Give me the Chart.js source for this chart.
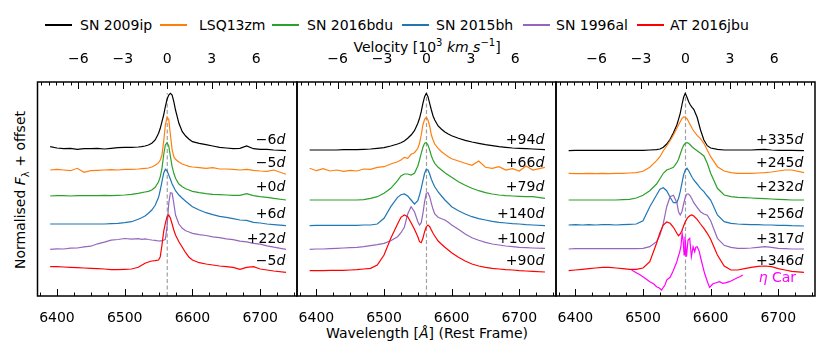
<!DOCTYPE html>
<html><head><meta charset="utf-8">
<script src="https://cdn.jsdelivr.net/npm/chart.js@4.4.0/dist/chart.umd.min.js"></script>
<style>
html,body{margin:0;padding:0;background:#fff;}
body{width:830px;height:357px;overflow:hidden;position:relative;font-family:"DejaVu Sans",sans-serif;color:#000;}
canvas{position:absolute;top:0;}
.t{position:absolute;white-space:nowrap;font-size:14px;line-height:1;transform:translate(-50%,-50%);}
.lg{position:absolute;top:25px;height:0;}
.lg .ln{position:absolute;top:-1px;width:27px;height:1.6px;}
.lg .tx{position:absolute;top:-8px;font-size:14px;line-height:16px;white-space:nowrap;}
sup,sub{font-size:10px;line-height:0;}
</style></head><body>
<div id="legend"></div>
<div class="t" style="left:427px;top:47px;">Velocity [10<sup>3</sup> <i>km s</i><sup>−1</sup>]</div>
<div class="t" style="left:427px;top:333px;">Wavelength [<i>Å</i>] (Rest Frame)</div>
<div class="t" style="left:20px;top:190px;transform:translate(-50%,-50%) rotate(-90deg);">Normalised <i>F</i><sub>λ</sub> + offset</div>
<canvas id="c1" width="280" height="357" style="left:27px;width:280px;height:357px;"></canvas>
<canvas id="c2" width="280" height="357" style="left:287px;width:280px;height:357px;"></canvas>
<canvas id="c3" width="280" height="357" style="left:546px;width:280px;height:357px;"></canvas>
<script>
// ---------------- data ----------------
const seriesNames = ['SN 2009ip', 'LSQ13zm', 'SN 2016bdu', 'SN 2015bh', 'SN 1996al', 'AT 2016jbu'];
const seriesColors = ['#000000', '#ff7f0e', '#2ca02c', '#1f77b4', '#9467bd', '#ff0000'];

const wavelength = [6390,6400,6410,6420,6430,6440,6450,6460,6470,6480,6490,6500,6510,
  6520,6525,6530,6535,6540,6545,6550,
  6552.5,6555,6557.5,6560,6562.5,6565,6567.5,6570,6572.5,6575,
  6580,6585,6590,6595,6600,
  6610,6620,6630,6640,6650,6660,6670,6680,6690,6700,6710,6720,6738];

// Panel 1 (early epochs)
const p1_2009ip = [14.93,14.8,14.73,14.77,14.67,14.73,14.73,14.77,14.7,14.77,14.83,14.87,14.87,
  14.9,14.93,15.0,15.1,15.27,15.6,16.27,
  16.77,17.43,18.1,18.93,19.67,20.1,20.27,20.1,19.43,18.6,
  17.27,16.43,16.0,15.67,15.43,
  15.27,15.13,15.0,14.87,14.8,14.73,14.77,15.0,14.73,14.67,14.67,14.6,14.53];
const p1_lsq13zm = [12.6,12.67,12.6,12.53,12.77,12.37,12.53,12.57,12.6,12.63,12.6,12.67,12.67,
  12.7,12.73,12.77,12.8,12.9,13.07,13.33,
  13.6,14.1,15.43,17.1,17.87,17.67,16.1,14.6,13.93,13.67,
  13.4,13.2,13.07,12.97,12.9,
  12.83,12.77,12.83,12.7,12.7,12.67,12.6,12.67,12.57,12.5,12.47,12.6,12.17];
const p1_2016bdu = [10.0,10.03,10.03,10.0,10.03,10.03,10.03,10.03,10.07,10.03,10.07,10.1,10.17,
  10.27,10.33,10.4,10.47,10.6,10.87,11.43,
  11.93,12.77,14.1,15.1,15.33,15.0,13.93,12.93,12.27,11.77,
  11.2,10.93,10.73,10.6,10.47,
  10.33,10.23,10.17,10.13,10.1,10.07,10.07,10.23,10.03,9.93,9.87,9.77,9.6];
const p1_2015bh = [7.2,7.2,7.2,7.2,7.2,7.2,7.2,7.2,7.2,7.23,7.27,7.33,7.43,
  7.67,7.83,8.0,8.27,8.6,9.07,9.87,
  10.6,11.43,12.27,12.67,12.53,12.1,11.67,11.2,10.87,10.53,
  10.1,9.77,9.47,9.2,8.93,
  8.6,8.33,8.13,7.97,7.87,7.73,7.6,7.57,7.37,7.3,7.2,7.13,7.03];
const p1_1996al = [4.67,4.72,4.7,4.78,4.8,4.92,4.98,5.22,5.38,5.58,5.65,5.75,5.69,
  5.74,5.67,5.71,5.65,5.6,5.57,5.5,
  5.52,5.53,5.57,5.67,6.93,9.27,10.33,10.27,9.27,8.1,
  7.2,6.77,6.53,6.4,6.27,
  6.13,6.05,5.91,5.84,5.72,5.64,5.49,5.42,5.26,5.18,5.02,4.88,4.67];
const p1_2016jbu = [2.93,2.93,2.9,2.87,2.83,2.8,2.77,2.73,2.7,2.63,2.63,2.67,2.7,
  2.87,3.07,3.27,3.4,3.5,3.53,3.6,
  3.93,5.1,6.43,7.27,7.93,8.1,7.77,7.2,6.6,6.1,
  5.43,4.87,4.33,3.87,3.6,
  3.33,3.2,3.1,3.0,2.93,2.87,2.67,2.87,2.93,2.7,2.6,2.5,2.37];

// Panel 2 (intermediate epochs)
const p2_2009ip = [14.6,14.6,14.6,14.6,14.6,14.63,14.63,14.63,14.67,14.7,14.77,14.83,15.0,
  15.2,15.33,15.5,15.77,16.1,16.53,17.27,
  17.77,18.43,19.27,19.93,20.27,19.93,19.27,18.6,18.0,17.6,
  17.0,16.67,16.4,16.2,16.03,
  15.77,15.57,15.4,15.27,15.13,15.03,14.93,14.87,14.8,14.77,14.73,14.7,14.63];
const p2_lsq13zm = [12.77,12.53,12.73,12.5,12.6,12.47,12.57,12.5,12.7,12.67,12.87,12.93,13.2,
  13.43,13.6,13.87,13.77,14.17,14.33,14.77,
  15.27,16.1,17.1,17.67,17.87,17.6,17.0,16.1,15.6,15.2,
  14.77,14.43,14.17,13.93,13.73,
  13.5,13.27,13.07,13.5,12.87,12.77,12.93,12.6,12.73,12.5,13.0,12.6,12.87];
const p2_2016bdu = [9.6,9.6,9.6,9.6,9.6,9.6,9.6,9.6,9.63,9.77,9.93,10.27,10.77,
  11.53,12.0,12.2,12.2,12.1,12.27,13.0,
  13.6,14.27,14.87,15.27,15.33,15.1,14.6,14.0,13.6,13.27,
  12.87,12.6,12.33,12.1,11.87,
  11.43,11.07,10.77,10.53,10.33,10.2,10.1,10.03,10.0,9.97,9.93,9.93,9.77];
const p2_2015bh = [7.03,7.07,7.07,7.07,7.07,7.07,7.07,7.07,7.1,7.1,7.2,7.77,8.93,
  9.87,10.13,10.2,10.0,9.6,9.2,9.53,
  10.1,10.77,11.53,12.27,12.67,12.6,12.2,11.67,11.27,10.93,
  10.4,10.0,9.6,9.27,8.93,
  8.53,8.2,7.93,7.73,7.6,7.47,7.37,7.3,7.23,7.2,7.13,7.1,7.03];
const p2_1996al = [4.67,4.7,4.7,4.73,4.77,4.8,4.83,4.87,4.93,5.03,5.13,5.27,5.53,
  5.93,6.33,6.87,8.2,8.93,8.43,7.43,
  7.1,7.33,8.27,9.43,10.27,10.33,9.93,9.27,8.67,8.2,
  7.87,7.73,7.6,7.37,7.1,
  6.67,6.2,5.83,5.57,5.37,5.2,5.1,5.0,4.93,4.87,4.83,4.8,4.77];
const p2_2016jbu = [2.53,2.53,2.53,2.57,2.57,2.57,2.6,2.63,2.7,2.77,3.1,4.1,5.77,
  7.2,7.87,8.1,7.93,7.33,6.67,5.93,
  5.43,5.33,5.77,6.43,6.93,7.1,6.93,6.6,6.27,6.0,
  5.5,5.17,4.87,4.6,4.33,
  3.87,3.5,3.2,3.0,2.87,2.77,2.7,2.63,2.6,2.53,2.5,2.47,2.4];

// Panel 3 (late epochs)
const p3_2009ip = [14.53,14.57,14.57,14.57,14.57,14.57,14.57,14.57,14.57,14.57,14.57,14.57,14.6,
  14.63,14.7,14.87,15.2,15.67,16.33,17.1,
  17.67,18.27,19.1,19.87,20.27,19.87,19.43,19.1,18.87,18.67,
  17.87,16.6,15.6,15.03,14.8,
  14.67,14.6,14.6,14.6,14.6,14.6,14.63,14.67,14.6,14.57,14.57,14.57,14.53];
const p3_lsq13zm = [12.27,12.23,12.23,12.27,12.23,12.27,12.23,12.27,12.27,12.3,12.33,12.47,12.87,
  13.53,13.93,14.53,15.0,15.53,16.1,16.77,
  17.1,17.43,17.73,17.9,17.87,17.73,17.43,17.1,16.77,16.5,
  16.07,15.73,15.27,14.6,13.93,
  12.93,12.5,12.33,12.27,12.27,12.27,12.3,12.33,12.4,12.5,12.6,12.6,12.33];
const p3_2016bdu = [9.6,9.6,9.6,9.6,9.6,9.6,9.6,9.6,9.63,9.67,9.8,10.07,10.53,
  11.2,11.73,12.27,12.6,12.73,12.87,13.33,
  13.67,14.17,14.67,15.07,15.27,15.33,15.27,15.1,14.93,14.77,
  14.53,14.27,14.0,13.27,12.27,
  10.77,10.1,9.93,9.87,9.83,9.8,9.77,9.73,9.7,9.67,9.63,9.6,9.6];
const p3_2015bh = [7.1,7.13,7.1,7.13,7.1,7.13,7.13,7.1,7.13,7.17,7.2,7.53,8.93,
  10.1,10.67,10.83,10.53,9.87,9.33,9.33,
  9.77,10.43,11.27,12.1,12.6,12.77,12.53,12.2,11.87,11.6,
  11.2,10.77,10.43,10.0,9.6,
  8.1,7.43,7.27,7.2,7.17,7.13,7.13,7.1,7.1,7.07,7.07,7.03,7.0];
const p3_1996al = [4.7,4.73,4.73,4.73,4.73,4.73,4.73,4.73,4.73,4.73,4.73,4.77,4.93,
  5.43,6.1,7.27,8.93,9.93,10.07,9.33,
  8.43,8.1,8.43,9.2,9.87,10.2,10.2,10.0,9.67,9.33,
  8.87,8.43,8.2,8.07,7.53,
  5.77,5.07,4.87,4.77,4.77,4.8,4.87,4.93,4.87,4.77,4.73,4.7,4.7];
const p3_2016jbu = [2.53,2.6,2.67,2.73,2.8,2.87,2.87,2.8,2.73,2.67,2.67,2.8,3.43,
  5.27,6.33,7.1,7.4,7.27,6.87,6.27,
  6.03,6.2,6.53,7.0,7.43,7.73,7.93,8.07,8.1,8.0,
  7.67,7.2,6.77,6.27,5.67,
  4.1,3.0,2.6,2.6,2.73,2.87,2.97,3.0,2.93,2.73,2.6,2.47,2.37];

// eta Car comparison (panel 3)
const etaCarWave = [6483,6490,6496,6503,6510,6516,6520,6524,6527.5,6530,6532.5,6535,6540,6544,6547,6550,
  6552,6554,6556,6557.8,6559.3,6560.7,6562,6564.2,6566.6,6569,6571.5,6574,6576.4,6578,6580,6582.8,
  6586,6591,6596,6598.5,6603,6608,6613,6618,6623,6628,6633,6638,6643,6647.5];
const etaCarFlux = [2.6,2.33,2.1,1.77,1.43,1.2,0.93,0.8,0.6,0.87,1.1,1.6,1.87,2.43,2.93,3.43,
  3.93,4.33,4.93,6.27,5.6,4.1,5.93,3.93,5.6,5.77,3.93,4.93,4.43,4.87,4.93,4.53,
  3.6,2.27,1.27,0.87,1.2,1.33,1.43,1.27,1.33,1.43,1.6,1.77,1.93,2.1];

// epochs (days) for each panel, same order as seriesNames
const epochsP1 = ['−6', '−5', '+0', '+6', '+22', '−5'];
const epochsP2 = ['+94', '+66', '+79', '+140', '+100', '+90'];
const epochsP3 = ['+335', '+245', '+232', '+256', '+317', '+346'];

// axes
const H_ALPHA = 6562.8;
const wlTicks = [6400, 6500, 6600, 6700];
const velTicks = [-6, -3, 0, 3, 6];
const X_MIN = 6371.3, X_MAX = 6754.3;
const C_KMS = 299792.458;

// ---------------- layout (not data) ----------------
const labelX = 6737;
const labelY = [15.6, 13.3, 10.85, 8.15, 5.7, 3.45];
const FONT = '"DejaVu Sans", sans-serif';
const Y_MAX = 21.4;

// legend (HTML)
const legendLineX = [45, 160, 272, 402, 523, 637];
const legendTextX = [80, 199, 307, 436, 556, 670];
const lg = document.getElementById('legend');
seriesNames.forEach((n, i) => {
  const d = document.createElement('div');
  d.className = 'lg';
  d.style.left = '0px';
  d.innerHTML = `<div class="ln" style="left:${legendLineX[i]}px;background:${seriesColors[i]}"></div><div class="tx" style="left:${legendTextX[i]}px">${n}</div>`;
  lg.appendChild(d);
});

function pts(xs, ys) { return xs.map((x, i) => ({x: x, y: ys[i]})); }

const panelPlugin = {
  id: 'panel',
  afterDatasetsDraw(chart, args, opts) {
    const ctx = chart.ctx, a = chart.chartArea;
    const xs = chart.scales.x, vs = chart.scales.x2, ys = chart.scales.y;
    ctx.save();
    ctx.strokeStyle = '#000'; ctx.lineWidth = 1.5;
    ctx.strokeRect(a.left, a.top, a.right - a.left, a.bottom - a.top);
    ctx.lineWidth = 1;
    ctx.beginPath();
    for (let w = 6375; w <= X_MAX; w += 25) {
      const px = Math.round(xs.getPixelForValue(w)) + 0.5;
      const len = (w % 100 === 0) ? 7 : 3.5;
      ctx.moveTo(px, a.bottom); ctx.lineTo(px, a.bottom - len);
    }
    for (let v = -8.5; v <= 8.5; v += 0.5) {
      const px = Math.round(vs.getPixelForValue(v)) + 0.5;
      if (px < a.left || px > a.right) continue;
      const len = (Math.abs(v) % 3 === 0) ? 7 : 3.5;
      ctx.moveTo(px, a.top); ctx.lineTo(px, a.top + len);
    }
    ctx.stroke();
    ctx.fillStyle = '#000';
    ctx.textBaseline = 'middle';
    ctx.textAlign = 'right';
    opts.epochs.forEach((e, i) => {
      const x = xs.getPixelForValue(labelX), y = ys.getPixelForValue(labelY[i]);
      ctx.font = 'italic 14px ' + FONT;
      const wd = ctx.measureText('d').width;
      ctx.fillText('d', x, y);
      ctx.font = '14px ' + FONT;
      ctx.fillText(e, x - wd, y);
    });
    if (opts.eta) {
      const x = xs.getPixelForValue(6671), y = ys.getPixelForValue(1.8);
      ctx.fillStyle = '#ff00ff';
      ctx.textAlign = 'left';
      ctx.font = 'italic 14px ' + FONT;
      ctx.fillText('η', x, y);
      const w1 = ctx.measureText('η ').width;
      ctx.font = '14px ' + FONT;
      ctx.fillText('Car', x + w1, y);
    }
    ctx.restore();
  }
};

function makeChart(id, padL, padR, series, epochs, withEta) {
  const datasets = [{
    label: 'Halpha', data: [{x: H_ALPHA, y: 0}, {x: H_ALPHA, y: 20.3}],
    borderColor: '#a0a0a0', borderWidth: 1.2, borderDash: [4, 2.5], order: 10
  }];
  series.forEach((s, i) => datasets.push({
    label: seriesNames[i], data: pts(wavelength, s),
    borderColor: seriesColors[i], borderWidth: 1.2, order: 6 - i
  }));
  if (withEta) datasets.push({
    label: 'η Car', data: pts(etaCarWave, etaCarFlux),
    borderColor: '#ff00ff', borderWidth: 1.2, order: 0
  });
  const tickFont = {family: FONT, size: 14};
  return new Chart(document.getElementById(id), {
    type: 'line',
    data: {datasets},
    options: {
      responsive: false, animation: false, events: [],
      layout: {padding: {left: padL, right: padR, top: 52, bottom: 31}},
      elements: {point: {radius: 0}, line: {tension: 0, fill: false}},
      plugins: {legend: {display: false}, tooltip: {enabled: false}, panel: {epochs, eta: withEta}},
      scales: {
        x: {
          type: 'linear', position: 'bottom', min: X_MIN, max: X_MAX,
          grid: {display: false}, border: {display: false},
          afterBuildTicks: s => { s.ticks = wlTicks.map(v => ({value: v})); },
          afterFit: s => { s.height = 30; },
          ticks: {font: tickFont, color: '#000', padding: 6, maxRotation: 0, autoSkip: false,
                  callback: v => String(v)}
        },
        x2: {
          type: 'linear', position: 'top',
          min: C_KMS * (X_MIN - H_ALPHA) / H_ALPHA / 1000,
          max: C_KMS * (X_MAX - H_ALPHA) / H_ALPHA / 1000,
          grid: {display: false}, border: {display: false},
          afterBuildTicks: s => { s.ticks = velTicks.map(v => ({value: v})); },
          afterFit: s => { s.height = 30; },
          ticks: {font: tickFont, color: '#000', padding: 6, maxRotation: 0, autoSkip: false,
                  callback: v => (v < 0 ? '−' + Math.abs(v) : String(v))}
        },
        y: {display: false, min: 0, max: Y_MAX}
      }
    },
    plugins: [panelPlugin]
  });
}

makeChart('c1', 10.5, 10, [p1_2009ip, p1_lsq13zm, p1_2016bdu, p1_2015bh, p1_1996al, p1_2016jbu], epochsP1, false);
makeChart('c2', 10, 11, [p2_2009ip, p2_lsq13zm, p2_2016bdu, p2_2015bh, p2_1996al, p2_2016jbu], epochsP2, false);
makeChart('c3', 10, 11, [p3_2009ip, p3_lsq13zm, p3_2016bdu, p3_2015bh, p3_1996al, p3_2016jbu], epochsP3, true);
</script>
</body></html>
